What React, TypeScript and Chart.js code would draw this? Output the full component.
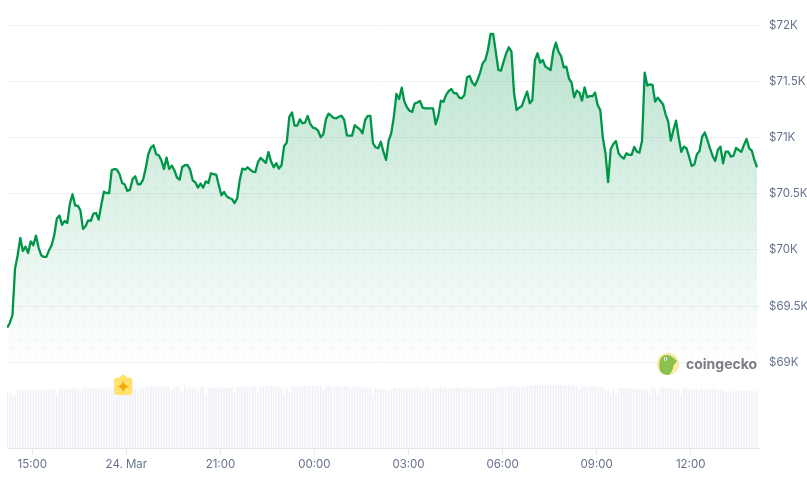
import React, { useEffect, useRef } from "react";
import { Chart, registerables } from "chart.js";

Chart.register(...registerables);

const startMinute = -48; // minutes relative to the 15:00 tick
const stepMinutes = 5;

const priceValues = [
  69309, 69350, 69419, 69834, 69953, 70107, 69991, 70030, 69973, 70077,
  70042, 70128, 70021, 69953, 69938, 69938, 69997, 70042, 70131, 70279,
  70306, 70223, 70258, 70240, 70413, 70496, 70395, 70395, 70353, 70187,
  70211, 70264, 70258, 70324, 70329, 70270, 70398, 70519, 70507, 70507,
  70709, 70721, 70715, 70674, 70596, 70582, 70525, 70537, 70632, 70656,
  70585, 70585, 70626, 70724, 70852, 70911, 70932, 70852, 70843, 70798,
  70721, 70822, 70721, 70751, 70709, 70644, 70626, 70739, 70754, 70757,
  70715, 70620, 70602, 70555, 70591, 70555, 70611, 70596, 70683, 70674,
  70671, 70576, 70487, 70516, 70478, 70463, 70454, 70418, 70457, 70620,
  70724, 70715, 70736, 70715, 70697, 70694, 70783, 70819, 70798, 70775,
  70872, 70787, 70736, 70772, 70724, 70754, 70926, 70956, 71187, 71223,
  71107, 71107, 71163, 71128, 71134, 71193, 71122, 71089, 71083, 71062,
  71003, 71030, 71163, 71214, 71193, 71175, 71172, 71187, 71193, 71157,
  71021, 71018, 71018, 71110, 71092, 71074, 71039, 71157, 71193, 71193,
  70950, 70914, 70905, 70964, 70875, 70801, 70973, 71039, 71187, 71389,
  71344, 71445, 71321, 71270, 71240, 71229, 71306, 71312, 71326, 71267,
  71261, 71261, 71261, 71261, 71119, 71193, 71329, 71318, 71380, 71415,
  71433, 71395, 71395, 71356, 71350, 71380, 71537, 71549, 71490, 71463,
  71513, 71579, 71662, 71691, 71780, 71923, 71923, 71766, 71602, 71596,
  71677, 71751, 71804, 71766, 71395, 71246, 71267, 71282, 71350, 71410,
  71306, 71335, 71691, 71751, 71668, 71691, 71632, 71617, 71602, 71766,
  71846, 71766, 71727, 71626, 71632, 71528, 71490, 71359, 71418, 71401,
  71329, 71448, 71359, 71371, 71368, 71401, 71291, 71246, 70994, 70861,
  70603, 70896, 70944, 70970, 70861, 70831, 70813, 70861, 70846, 70846,
  70917, 70875, 70867, 70973, 71579, 71463, 71475, 71469, 71321, 71356,
  71326, 71297, 71208, 71143, 70973, 71068, 71151, 71003, 70873, 70920,
  70905, 70831, 70748, 70760, 70852, 70881, 71009, 71045, 70979, 70905,
  70837, 70792, 70890, 70920, 70772, 70875, 70875, 70831, 70840, 70908,
  70890, 70873, 70935, 70988, 70905, 70884, 70801, 70736,
];

const volumeValues = [
  57, 56, 53, 52, 58, 57, 58, 58, 58, 58, 58, 58, 58, 58, 58, 58, 58, 58, 59, 53,
  59, 59, 59, 59, 59, 59, 60, 59, 57, 60, 60, 60, 60, 60, 60, 59, 59, 59, 59, 61,
  59, 60, 58, 59, 60, 60, 59, 60, 58, 59, 58, 60, 60, 61, 61, 62, 61, 61, 61, 61,
  61, 62, 61, 58, 61, 62, 60, 56, 61, 59, 61, 60, 59, 58,
  61, 61, 52, 61, 60, 60, 60, 61, 60, 60, 60, 60, 61, 56, 61, 61, 61, 62, 61, 61,
  62, 61, 55, 61, 61, 62, 62, 62, 61, 61, 61, 60, 52, 60, 56, 62, 62, 61, 62, 62,
  62, 62, 62, 62, 62, 62, 62, 57, 61, 62, 61, 61, 62, 61, 60, 62, 62, 60, 59, 61,
  61, 61, 60, 61, 60, 60, 54, 60, 59, 59, 59, 58, 57, 59, 60, 60, 60,
  60, 59, 59, 60, 59, 59, 60, 59, 58, 60, 61, 59, 60, 60, 60, 61, 60, 60, 60, 60,
  60, 61, 60, 60, 60, 61, 60, 60, 60, 60, 59, 60, 60, 60, 60, 60, 60, 61, 60, 61,
  61, 62, 62, 62, 61, 60, 60, 61, 61, 62, 63, 63, 63, 63, 63, 63, 63, 63, 63, 63,
  63, 63, 62, 63, 63, 63, 61, 62, 59, 62, 62, 61, 62, 62, 62, 61, 61, 60, 56,
  58, 53, 60, 53, 60, 60, 60, 60, 60, 60, 59, 59, 59, 59, 58, 59, 54, 61, 59, 54,
  60, 61, 60, 60, 59, 59, 59, 59, 51, 59, 60, 59, 59, 59, 59, 58, 59, 58, 58, 59,
  59, 58, 58, 58, 57, 56, 56, 57, 56, 57, 57, 57, 57, 57, 58, 57, 56, 57, 56, 57,
].slice(0, 288);

const priceTicks = [69000, 69500, 70000, 70500, 71000, 71500, 72000];
const timeTicks = [0, 180, 360, 540, 720, 900, 1080, 1260];
const timeLabels = ["15:00", "24. Mar", "21:00", "00:00", "03:00", "06:00", "09:00", "12:00"];
const eventMinute = 174;

const GREEN = "#00964a";
const FONT = "Inter, 'Open Sans', sans-serif";

function fmtPrice(v: number) {
  return "$" + v / 1000 + "K";
}

function makeDotPattern(ctx: CanvasRenderingContext2D) {
  const tile = document.createElement("canvas");
  tile.width = 16;
  tile.height = 16;
  const t = tile.getContext("2d")!;
  t.fillStyle = "rgba(0,110,90,0.028)";
  for (const [x, y] of [[3.5, 4.5], [11.5, 12.5]]) {
    t.beginPath();
    t.arc(x, y, 2, 0, Math.PI * 2);
    t.fill();
  }
  return ctx.createPattern(tile, "repeat")!;
}

const decorations = {
  id: "decorations",
  afterDraw(chart: any) {
    const { ctx, scales } = chart;
    ctx.save();
    // watermark
    const cx = 668;
    const cy = 364;
    ctx.fillStyle = "#fbeaa2";
    ctx.beginPath();
    ctx.arc(cx, cy, 11, 0, Math.PI * 2);
    ctx.fill();
    ctx.fillStyle = "#8cc152";
    ctx.beginPath();
    ctx.moveTo(cx - 8, cy + 7);
    ctx.bezierCurveTo(cx - 10, cy - 2, cx - 8, cy - 9, cx - 1, cy - 9);
    ctx.bezierCurveTo(cx + 3, cy - 9, cx + 6, cy - 6, cx + 9, cy - 3);
    ctx.bezierCurveTo(cx + 7, cy, cx + 5, cy + 1, cx + 5, cy + 4);
    ctx.bezierCurveTo(cx + 4, cy + 7, cx + 3, cy + 9, cx + 1, cy + 11);
    ctx.bezierCurveTo(cx - 3, cy + 11, cx - 6, cy + 10, cx - 8, cy + 7);
    ctx.fill();
    ctx.fillStyle = "#ffffff";
    ctx.beginPath();
    ctx.arc(cx - 2.5, cy - 5, 1.8, 0, Math.PI * 2);
    ctx.fill();
    ctx.fillStyle = "#555b50";
    ctx.beginPath();
    ctx.arc(cx - 2.5, cy - 5, 0.8, 0, Math.PI * 2);
    ctx.fill();
    ctx.fillStyle = "#7c7c82";
    ctx.font = `700 14px ${FONT}`;
    ctx.textAlign = "left";
    ctx.textBaseline = "middle";
    ctx.fillText("coingecko", 686, 364.5);

    // event badge
    const bx = scales.x.getPixelForValue(eventMinute);
    ctx.fillStyle = "#ffe16b";
    ctx.beginPath();
    ctx.moveTo(bx, 374);
    ctx.lineTo(bx + 4, 377.5);
    ctx.lineTo(bx + 6, 377.5);
    ctx.quadraticCurveTo(bx + 9, 377.5, bx + 9, 380.5);
    ctx.lineTo(bx + 9, 392);
    ctx.quadraticCurveTo(bx + 9, 395, bx + 6, 395);
    ctx.lineTo(bx - 6, 395);
    ctx.quadraticCurveTo(bx - 9, 395, bx - 9, 392);
    ctx.lineTo(bx - 9, 380.5);
    ctx.quadraticCurveTo(bx - 9, 377.5, bx - 6, 377.5);
    ctx.lineTo(bx - 4, 377.5);
    ctx.closePath();
    ctx.fill();
    const sy = 386.5;
    ctx.fillStyle = "#f6a90f";
    ctx.beginPath();
    ctx.moveTo(bx, sy - 6);
    ctx.quadraticCurveTo(bx + 1, sy - 1, bx + 6, sy);
    ctx.quadraticCurveTo(bx + 1, sy + 1, bx, sy + 6);
    ctx.quadraticCurveTo(bx - 1, sy + 1, bx - 6, sy);
    ctx.quadraticCurveTo(bx - 1, sy - 1, bx, sy - 6);
    ctx.fill();
    ctx.restore();
  },
};

export default function App() {
  const ref = useRef<HTMLCanvasElement | null>(null);

  useEffect(() => {
    const canvas = ref.current!;
    const ctx2d = canvas.getContext("2d")!;
    const minuteAt = (i: number) => startMinute + stepMinutes * i;
    const pricePts = priceValues.map((y, i) => ({ x: minuteAt(i), y }));
    const volPts = volumeValues.map((y, i) => ({ x: minuteAt(i), y }));

    const chart = new Chart(canvas, {
      type: "bar",
      data: {
        datasets: [
          {
            type: "line",
            data: pricePts,
            yAxisID: "y",
            borderColor: GREEN,
            borderWidth: 2.3,
            borderJoinStyle: "round",
            pointRadius: 0,
            tension: 0,
            fill: { value: 69000 },
            order: 1,
            backgroundColor: (c: any) => {
              const { chart: ch } = c;
              if (!ch.chartArea) return "transparent";
              const y = ch.scales.y;
              const g = ch.ctx.createLinearGradient(
                0,
                y.getPixelForValue(72000),
                0,
                y.getPixelForValue(69000)
              );
              g.addColorStop(0, "rgba(0,150,74,0.28)");
              g.addColorStop(1, "rgba(0,150,74,0)");
              return g;
            },
          },
          {
            type: "line",
            data: pricePts,
            yAxisID: "y",
            borderWidth: 0,
            borderColor: "transparent",
            pointRadius: 0,
            tension: 0,
            fill: { value: 69000 },
            backgroundColor: makeDotPattern(ctx2d),
            order: 2,
          },
          {
            type: "bar",
            data: volPts,
            yAxisID: "v",
            backgroundColor: "#f0f1f7",
            barThickness: 1,
            order: 3,
          },
        ] as any,
      },
      options: {
        responsive: false,
        animation: false,
        parsing: false as any,
        normalized: true,
        layout: { padding: { left: 7, top: 25.3, right: 0, bottom: 0 } },
        plugins: { legend: { display: false }, tooltip: { enabled: false } },
        scales: {
          x: {
            type: "linear",
            offset: false,
            min: -48.4,
            max: 1392.7,
            afterBuildTicks: (s: any) => {
              s.ticks = timeTicks.map((value) => ({ value }));
            },
            afterFit: (s: any) => {
              s.height = 29;
            },
            ticks: {
              autoSkip: false,
              maxRotation: 0,
              padding: 3,
              color: "#66738c",
              font: { family: FONT, size: 11.5 },
              callback: (v: any) => timeLabels[timeTicks.indexOf(v)] ?? "",
            },
            grid: {
              offset: false,
              drawOnChartArea: false,
              drawTicks: true,
              tickLength: 7,
              color: "#e6e8f0",
            },
            border: { color: "#e6e8f0" },
          },
          y: {
            type: "linear",
            position: "right",
            min: 68237,
            max: 72000,
            afterBuildTicks: (s: any) => {
              s.ticks = priceTicks.map((value) => ({ value }));
            },
            afterFit: (s: any) => {
              s.width = 47;
            },
            ticks: {
              padding: 9,
              color: "#66738c",
              font: { family: FONT, size: 11.5 },
              callback: (v: any) => fmtPrice(v),
            },
            grid: { color: "#eff1f6", drawTicks: false },
            border: { display: false },
          },
          v: {
            type: "linear",
            display: false,
            min: 0,
            max: 422.7,
          },
        },
      } as any,
      plugins: [decorations],
    });
    return () => chart.destroy();
  }, []);

  return (
    <div style={{ position: "absolute", left: 0, top: 0, width: 807, height: 477 }}>
      <canvas ref={ref} width={807} height={477} style={{ display: "block" }} />
    </div>
  );
}
